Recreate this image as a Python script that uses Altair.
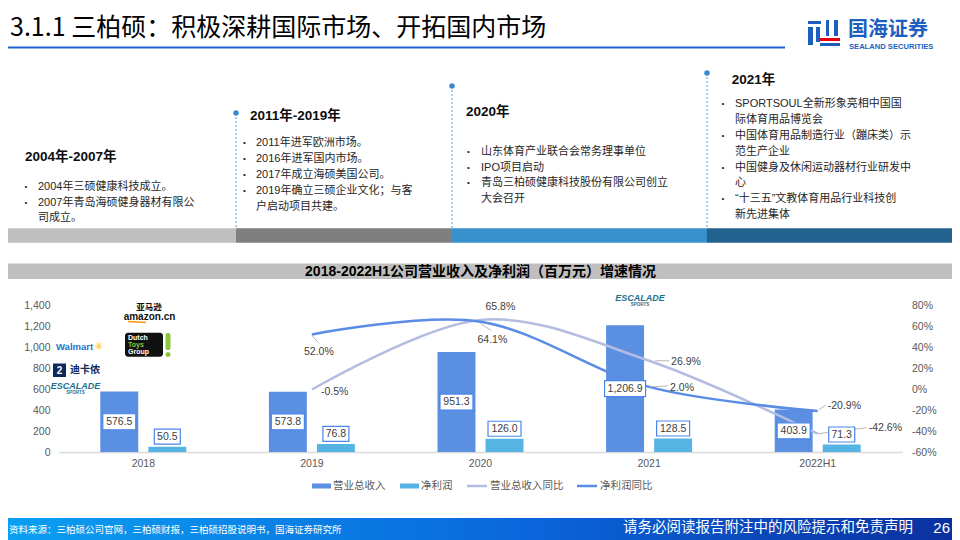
import altair as alt
import pandas as pd

# ---------------- data ----------------
years = ["2018", "2019", "2020", "2021", "2022H1"]
revenue = [576.5, 573.8, 951.3, 1206.9, 403.9]          # 营业总收入 (百万元)
net_profit = [50.5, 76.8, 126.0, 128.5, 71.3]           # 净利润 (百万元)
revenue_yoy = [None, -0.5, 65.8, 26.9, -42.6]           # 营业总收入同比 (%)
profit_yoy = [None, 52.0, 64.1, 2.0, -20.9]             # 净利润同比 (%)
left_ticks = [0, 200, 400, 600, 800, 1000, 1200, 1400]
right_ticks = [-60, -40, -20, 0, 20, 40, 60, 80]
series_bar = ["营业总收入", "净利润"]
series_line = ["营业总收入同比", "净利润同比"]

rows = []
for s, vals in zip(series_bar, [revenue, net_profit]):
    for y, v in zip(years, vals):
        lab = f"{v:,.1f}"
        rows.append({"year": y, "series": s, "value": v, "label": lab, "n": len(lab)})
bar_df = pd.DataFrame(rows)

rows = []
for s, vals in zip(series_line, [revenue_yoy, profit_yoy]):
    for i, (y, v) in enumerate(zip(years, vals)):
        if v is None:
            continue
        rows.append({"idx": i, "year": y, "series": s, "value": v / 100, "label": f"{v:.1f}%"})
line_df = pd.DataFrame(rows)

# ---------------- styles ----------------
C_REV = "#5B8FE1"
C_NP = "#56B4E4"
C_LREV = "#B4BCE2"
C_LNP = "#5A8CE6"
C_BOX = "#4A86E8"
AX = "#595959"
TXT = "#262626"
FONT_MIX = "Liberation Sans, Noto Sans CJK SC"
FONT_CN = "Noto Sans CJK SC"
FONT_NUM = "Liberation Sans"

M = 8  # page margin
ONE = pd.DataFrame({"k": [0]})


def R(x1, y1, x2, y2, **kw):
    return alt.Chart(ONE).mark_rect(**kw).encode(
        x=alt.value(x1 - M), x2=alt.value(x2 - M), y=alt.value(y1 - M), y2=alt.value(y2 - M))


def T(x, y, s, size=11, color=TXT, weight="normal", align="left", font=FONT_MIX, **kw):
    return alt.Chart(ONE).mark_text(text=s, fontSize=size, color=color, fontWeight=weight,
                                    align=align, baseline="middle", font=font, **kw).encode(
        x=alt.value(x - M), y=alt.value(y - M))


def L(x1, y1, x2, y2, color, width=1, **kw):
    return alt.Chart(ONE).mark_rule(color=color, strokeWidth=width, **kw).encode(
        x=alt.value(x1 - M), x2=alt.value(x2 - M), y=alt.value(y1 - M), y2=alt.value(y2 - M))


def C(x, y, size, color):
    return alt.Chart(ONE).mark_circle(size=size, color=color, opacity=1).encode(
        x=alt.value(x - M), y=alt.value(y - M))


layers = []

# ---------------- header ----------------
layers.append(T(10, 28, "3.1.1 三柏硕：积极深耕国际市场、开拓国内市场", size=25, color="#000000", font=FONT_CN))
layers.append(R(0, 46.5, 785, 48.5, color="#2060D0"))
# logo symbol
LOGO_B = "#1D5FBF"
for (a, b, c, d) in [(808, 21, 821, 24), (808, 27, 813, 45), (816, 27, 820, 42),
                     (826, 20, 829, 36), (834, 20, 838, 36), (820, 43, 840, 46)]:
    layers.append(R(a, b, c, d, color=LOGO_B))
layers.append(R(820, 38, 840, 41, color="#E60012"))
layers.append(T(848, 29.5, "国海证券", size=20, color=LOGO_B, weight="bold", font=FONT_CN))
layers.append(T(849, 46.5, "SEALAND SECURITIES", size=7.6, color=LOGO_B, weight="bold", font=FONT_NUM))

# ---------------- timeline ----------------
for x1, x2, col in [(0, 236, "#BFBFBF"), (236, 452, "#7F7F7F"), (452, 707, "#3790CC"), (707, 960, "#23618F")]:
    layers.append(R(x1, 228.3, x2, 242.7, color=col))
for x, top in [(236, 113), (452, 86), (707, 73)]:
    layers.append(L(x, top, x, 228, "#5B9BD5", 1, strokeDash=[2, 2]))
    layers.append(C(x, top, 30, "#3A87CF"))

timeline = [
    ("2004年-2007年", 25, 156.7, 26, 38, 186.7,
     [("•", "2004年三硕健康科技成立。"), ("•", "2007年青岛海硕健身器材有限公"), ("", "司成立。")]),
    ("2011年-2019年", 250, 116, 244.5, 256, 143.3,
     [("•", "2011年进军欧洲市场。"), ("•", "2016年进军国内市场。"), ("•", "2017年成立海硕美国公司。"),
      ("•", "2019年确立三硕企业文化；与客"), ("", "户启动项目共建。")]),
    ("2020年", 466, 111.7, 468.5, 481, 151.7,
     [("•", "山东体育产业联合会常务理事单位"), ("•", "IPO项目启动"),
      ("•", "青岛三柏硕健康科技股份有限公司创立"), ("", "大会召开")]),
    ("2021年", 731.7, 80, 723, 735, 104.3,
     [("•", "SPORTSOUL全新形象亮相中国国"), ("", "际体育用品博览会"),
      ("•", "中国体育用品制造行业（蹦床类）示"), ("", "范生产企业"),
      ("•", "中国健身及休闲运动器材行业研发中"), ("", "心"),
      ("•", "“十三五”文教体育用品行业科技创"), ("", "新先进集体")]),
]
for head, hx, hy, bx, tx, y0, lines in timeline:
    layers.append(T(hx, hy, head, size=13.5, color="#0D0D0D", weight="bold"))
    for k, (b, s) in enumerate(lines):
        yy = y0 + k * 15.8
        if b:
            layers.append(T(bx, yy, b, size=8, color=TXT, align="center"))
        layers.append(T(tx, yy, s, size=11, color=TXT))

# ---------------- chart title band ----------------
layers.append(R(0, 263.5, 960, 279, color="#BFBFBF"))
layers.append(T(480.5, 271.5, "2018-2022H1公司营业收入及净利润（百万元）增速情况", size=14,
                color="#000000", weight="bold", align="center"))

# ---------------- main chart ----------------
XR = [59 - M, 902 - M]
YR = [452 - M, 305 - M]


def xband(axis=None):
    return alt.X("year:N", sort=years,
                 scale=alt.Scale(type="band", domain=years, range=XR, paddingInner=0.49, paddingOuter=0.245),
                 axis=axis)


def xoff():
    # band offset used by the bars
    return alt.XOffset("series:N", sort=series_bar,
                       scale=alt.Scale(domain=series_bar, paddingInner=0.21, paddingOuter=0))


def xoff_pt():
    # point offset landing on the same bar centres (for text / box marks)
    return alt.XOffset("series:N", sort=series_bar,
                       scale=alt.Scale(type="point", domain=series_bar, padding=0.395))


def yleft(field="value", axis=None):
    return alt.Y(f"{field}:Q", scale=alt.Scale(domain=[0, 1400], range=YR, nice=False), axis=axis)


def xq():
    return alt.X("idx:Q", scale=alt.Scale(domain=[-0.5, 4.5], range=XR, nice=False, zero=False), axis=None)


def yright(axis=None, field="value"):
    return alt.Y(f"{field}:Q", scale=alt.Scale(domain=[-0.6, 0.8], range=YR, nice=False, zero=False),
                 axis=axis)


bottom_axis = alt.Axis(orient="bottom", offset=-88, title=None, labelAngle=0, ticks=False, grid=False,
                       domain=True, domainColor="#D9D9D9", domainWidth=1.5, labelColor=AX,
                       labelFontSize=10.5, labelFont=FONT_NUM, labelPadding=6)
left_axis = alt.Axis(orient="left", offset=-45, title=None, values=left_ticks, format=",.0f", domain=False,
                     ticks=False, grid=False, labelColor=AX, labelFontSize=10.5, labelFont=FONT_NUM,
                     labelPadding=3)
right_axis = alt.Axis(orient="right", offset=-43.5, title=None, values=[v / 100 for v in right_ticks],
                      labelExpr="(datum.value < -0.0001 ? '-' : '') + format(abs(datum.value) * 100, '.0f') + '%'",
                      domain=False, ticks=False, grid=False, labelColor=AX, labelFontSize=10.5,
                      labelFont=FONT_NUM, labelPadding=3)

bars = alt.Chart(bar_df).mark_bar().encode(
    x=xband(bottom_axis),
    xOffset=xoff(),
    y=yleft(axis=left_axis),
    y2=alt.datum(0),
    color=alt.Color("series:N", scale=alt.Scale(domain=series_bar, range=[C_REV, C_NP]), legend=None),
)
layers.append(bars)

# YoY lines
for s, col, ax in [(series_line[0], C_LREV, right_axis), (series_line[1], C_LNP, None)]:
    layers.append(alt.Chart(line_df).transform_filter(f"datum.series=='{s}'")
                  .mark_line(interpolate="cardinal", color=col, strokeWidth=2.5)
                  .encode(x=xq(), y=yright(ax)))

# label placement (px offsets from each YoY point): align, dx, dy, leader segment
yoy_label_style = {
    ("净利润同比", "2019"): ("center", 7, 18, (0, 1, 7, 9)),
    ("营业总收入同比", "2019"): ("left", 9, 2, None),
    ("营业总收入同比", "2020"): ("left", 5, -13, None),
    ("净利润同比", "2020"): ("left", -3, 18, (0, 2, 11, 9)),
    ("营业总收入同比", "2021"): ("left", 22, 1, (6, 0, 20, 0)),
    ("净利润同比", "2021"): ("left", 21, 1, (0, 0, 19, -1)),
    ("净利润同比", "2022H1"): ("left", 10, -5, (1, -1, 8, -6)),
    ("营业总收入同比", "2022H1"): ("left", 51, -6, (0, 0, 49, -6)),
}
yoy_texts = []
for (s, y), (al, dx, dy, ld) in yoy_label_style.items():
    base = alt.Chart(line_df).transform_filter(f"datum.series=='{s}' && datum.year=='{y}'")
    yoy_texts.append(base.mark_text(align=al, dx=dx, dy=dy, baseline="middle", fontSize=10.5,
                                    color="#404040", font=FONT_NUM)
                     .encode(x=xq(), y=yright(), text="label:N"))
    if ld:
        layers.append(base.mark_rule(color="#A6A6A6", strokeWidth=0.8, xOffset=ld[0], yOffset=ld[1],
                                     x2Offset=ld[2], y2Offset=ld[3])
                      .encode(x=xq(), x2="idx:Q", y=yright(), y2="value:Q"))


def box_shape(w, h):
    k = h / w
    return f"M-1,-{k:.4f}L1,-{k:.4f}L1,{k:.4f}L-1,{k:.4f}Z"


# boxed bar value labels
box_w = {4: 26, 5: 33, 7: 41}
for s, pos_expr, dy, bh in [(series_bar[0], "datum.value/2", 0, 16),
                            (series_bar[1], "datum.value", -10, 15)]:
    for n, w in box_w.items():
        layers.append(alt.Chart(bar_df)
                      .transform_filter(f"datum.series=='{s}' && datum.n=={n}")
                      .transform_calculate(pos=pos_expr)
                      .mark_point(shape=box_shape(w, bh), size=w * w, filled=True, fill="white",
                                  stroke=C_BOX, strokeWidth=1.2, opacity=1, yOffset=dy)
                      .encode(x=xband(), xOffset=xoff_pt(), y=yleft("pos")))
    layers.append(alt.Chart(bar_df)
                  .transform_filter(f"datum.series=='{s}'")
                  .transform_calculate(pos=pos_expr)
                  .mark_text(dy=dy, fontSize=10.5, color="#404040", font=FONT_NUM, baseline="middle")
                  .encode(x=xband(), xOffset=xoff_pt(), y=yleft("pos"), text="label:N"))

layers.extend(yoy_texts)

# ---------------- customer logos (as text) ----------------
layers.append(T(149, 306.5, "亚马逊", size=8.5, color="#111111", weight="bold", align="center", font=FONT_CN))
layers.append(T(149.5, 316.5, "amazon.cn", size=10, color="#111111", weight="bold", align="center", font=FONT_NUM))
layers.append(L(128, 321.5, 146, 322.5, "#FF9900", 1.5))
layers.append(R(125, 332.7, 163, 356.7, color="#111111", cornerRadius=3))
layers.append(T(128, 338, "Dutch", size=7, color="#FFFFFF", weight="bold", font=FONT_NUM))
layers.append(T(128, 345, "Toys", size=7, color="#8CC63F", weight="bold", font=FONT_NUM))
layers.append(T(128, 352, "Group", size=7, color="#FFFFFF", weight="bold", font=FONT_NUM))
layers.append(R(165.5, 333, 170.5, 350, color="#8CC63F", cornerRadius=2))
layers.append(C(168, 354.5, 25, "#8CC63F"))
layers.append(T(56, 346.7, "Walmart", size=9.5, color="#1A75CF", weight="bold", font=FONT_NUM))
layers.append(T(98.5, 346.5, "✳", size=11, color="#FFC220", align="center", font="DejaVu Sans"))
layers.append(R(53, 363.5, 66, 377, color="#0E2A5C"))
layers.append(T(59.5, 370.5, "2", size=10, color="#FFFFFF", weight="bold", align="center", font=FONT_NUM))
layers.append(T(70, 370, "迪卡侬", size=10, color="#0E2A5C", weight="bold", font=FONT_CN))
for cx, cy in [(75.5, 385.5), (640, 298)]:
    layers.append(T(cx, cy, "ESCALADE", size=9, color="#1F6F8B", weight="bold", align="center",
                    font=FONT_NUM, fontStyle="italic"))
    layers.append(T(cx, cy + 7, "SPORTS", size=4.5, color="#1F6F8B", weight="bold", align="center",
                    font=FONT_NUM))

# ---------------- legend ----------------
layers.append(R(312, 483.5, 331, 488.5, color=C_REV))
layers.append(T(333, 486, "营业总收入", size=10.5, color=AX, font=FONT_CN))
layers.append(R(400, 483.5, 419, 488.5, color=C_NP))
layers.append(T(421, 486, "净利润", size=10.5, color=AX, font=FONT_CN))
layers.append(L(467, 486, 487, 486, C_LREV, 2.5))
layers.append(T(490, 486, "营业总收入同比", size=10.5, color=AX, font=FONT_CN))
layers.append(L(577, 486, 597, 486, C_LNP, 2.5))
layers.append(T(600, 486, "净利润同比", size=10.5, color=AX, font=FONT_CN))

# ---------------- footer ----------------
grad = alt.LinearGradient(gradient="linear", x1=0, x2=1, y1=0, y2=0,
                          stops=[alt.GradientStop(color="#0AA0F2", offset=0),
                                 alt.GradientStop(color="#0A66DC", offset=0.55),
                                 alt.GradientStop(color="#0B2F9E", offset=1)])
layers.append(R(0, 518, 960, 540, fill=grad))
layers.append(T(9, 530, "资料来源：三柏硕公司官网，三柏硕财报，三柏硕招股说明书，国海证券研究所", size=9.5,
                color="#FFFFFF", font=FONT_CN))
layers.append(T(913, 527.5, "请务必阅读报告附注中的风险提示和免责声明", size=14.5, color="#FFFFFF",
                align="right", font=FONT_CN))
layers.append(T(950, 527.5, "26", size=15, color="#FFFFFF", align="right", font=FONT_NUM))

chart = (alt.layer(*layers)
         .resolve_scale(x="independent", y="independent", color="independent", xOffset="independent")
         .properties(width=944, height=532, autosize=alt.AutoSizeParams(type="none"), padding=0,
                     background="white")
         .configure_view(stroke=None))

chart.save("out.html", embed_options={"renderer": "svg", "actions": False})
